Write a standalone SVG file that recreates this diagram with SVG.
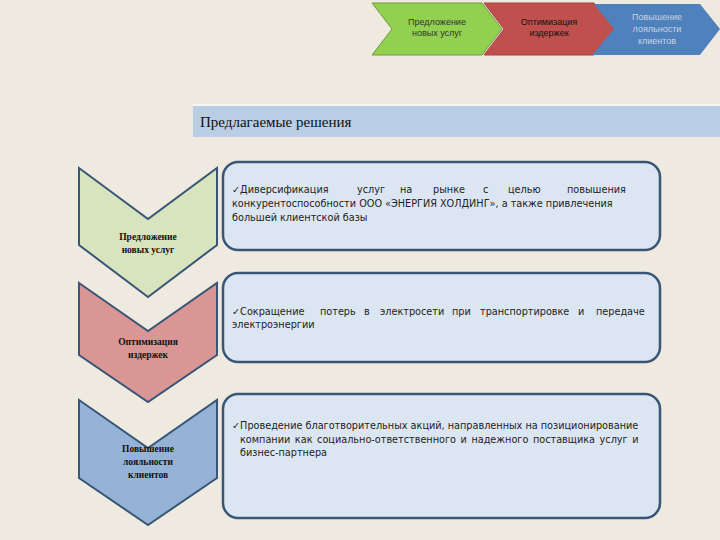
<svg xmlns="http://www.w3.org/2000/svg" width="720" height="540" viewBox="0 0 720 540">
<style>
.t{font-family:"DejaVu Sans",sans-serif;font-size:9.7px;fill:#222}
.l{font-family:"Liberation Serif",serif;font-size:9.5px;font-weight:bold;fill:#111;text-anchor:middle}
.c{font-family:"Liberation Sans",sans-serif;font-size:9px;text-anchor:middle}
.h{font-family:"Liberation Serif",serif;font-size:15px;fill:#111}
.box{fill:#DCE6F2;stroke:#3A5676;stroke-width:2.5}
.ch{stroke:#3A5676;stroke-width:2}
</style>
<rect width="720" height="540" fill="#EEEAE0"/>
<g id="top1"><polygon points="372,3 482,3 502,29 482,55 372,55 392,29" fill="#92D050" stroke="#6f9a40"/><text class="c" x="437" y="25" fill="#333">Предложение</text><text class="c" x="437" y="36" fill="#333">новых услуг</text></g>
<g id="top2"><polygon points="484,3 594,3 614,29 594,55 484,55 504,29" fill="#C0504D" stroke="#a84040"/><text class="c" x="549" y="25" fill="#111">Оптимизация</text><text class="c" x="549" y="36" fill="#111">издержек</text></g>
<g id="top3"><polygon points="594,4 700,4 720,29 700,55 592,55 614,29" fill="#4F81BD"/><text class="c" x="657" y="20" fill="#c8d4e4">Повышение</text><text class="c" x="657" y="32" fill="#c8d4e4">лояльности</text><text class="c" x="657" y="44" fill="#c8d4e4">клиентов</text></g>
<g id="header"><rect x="193" y="106" width="527" height="31" fill="#B9CDE5"/><line x1="193" y1="105" x2="720" y2="105" stroke="#fff"/><text class="h" x="200" y="127">Предлагаемые решения</text></g>
<g id="n1"><polygon class="ch" points="79,168 148,219 217,168 217,245 148,297 79,245" fill="#D7E4BD"/><text class="l" x="148" y="240">Предложение</text><text class="l" x="148" y="253">новых услуг</text></g>
<g id="n2"><polygon class="ch" points="79,283 148,331 217,283 217,355 148,402 79,355" fill="#D99694"/><text class="l" x="148" y="345">Оптимизация</text><text class="l" x="148" y="358">издержек</text></g>
<g id="n3"><polygon class="ch" points="79,400 148,448 217,400 217,478 148,525 79,478" fill="#95B3D7"/><text class="l" x="148" y="452">Повышение</text><text class="l" x="148" y="465">лояльности</text><text class="l" x="148" y="478">клиентов</text></g>
<g id="b1"><rect class="box" x="223" y="162" width="437" height="88" rx="15"/>
<text class="t" y="193"><tspan x="232">✓Диверсификация</tspan><tspan x="357">услуг</tspan><tspan x="400">на</tspan><tspan x="433">рынке</tspan><tspan x="483">с</tspan><tspan x="508">целью</tspan><tspan x="567">повышения</tspan></text>
<text class="t" x="232" y="207">конкурентоспособности ООО «ЭНЕРГИЯ ХОЛДИНГ», а также привлечения</text>
<text class="t" x="232" y="221">большей клиентской базы</text></g>
<g id="b2"><rect class="box" x="223" y="273" width="437" height="89" rx="15"/>
<text class="t" y="315"><tspan x="232">✓Сокращение</tspan><tspan x="320">потерь</tspan><tspan x="364">в</tspan><tspan x="380">электросети</tspan><tspan x="452">при</tspan><tspan x="480">транспортировке</tspan><tspan x="578">и</tspan><tspan x="596">передаче</tspan></text>
<text class="t" x="232" y="328">электроэнергии</text></g>
<g id="b3"><rect class="box" x="223" y="394" width="437" height="124" rx="15"/>
<text class="t" x="232" y="429">✓Проведение благотворительных акций, направленных на позиционирование</text>
<text class="t" x="240" y="443" word-spacing="1.5">компании как социально-ответственного и надежного поставщика услуг и</text>
<text class="t" x="240" y="456">бизнес-партнера</text></g>
<g id="connectors"/>
</svg>
